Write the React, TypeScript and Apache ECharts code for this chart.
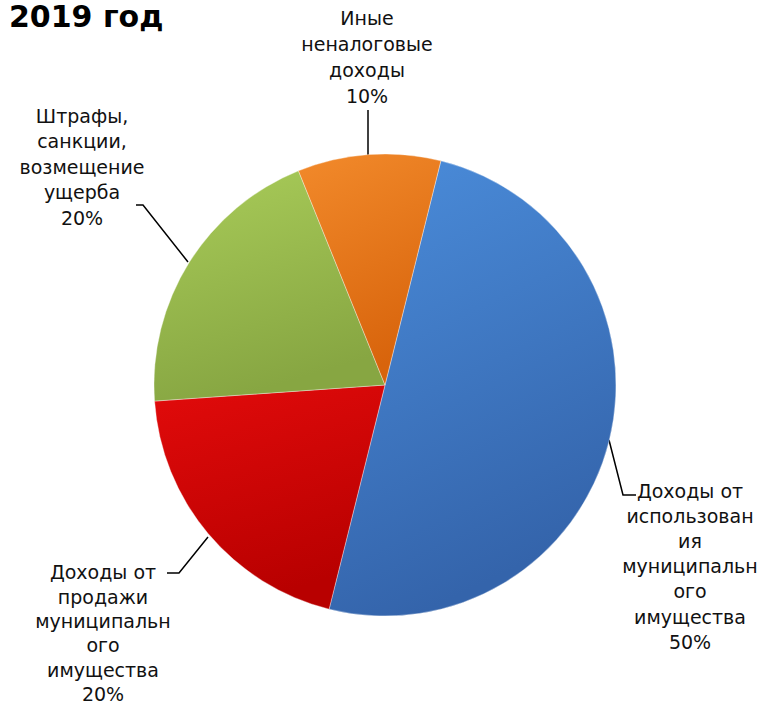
import React, { useEffect, useRef } from "react";
import * as echarts from "echarts";

const title = "2019 год";
const categories = [
  "Доходы от использования муниципального имущества",
  "Доходы от продажи муниципального имущества",
  "Штрафы, санкции, возмещение ущерба",
  "Иные неналоговые доходы",
];
const values = [50, 20, 20, 10];
const labelTexts = [
  ["Доходы от", "использован", "ия", "муниципальн", "ого", "имущества"],
  ["Доходы от", "продажи", "муниципальн", "ого", "имущества"],
  ["Штрафы,", "санкции,", "возмещение", "ущерба"],
  ["Иные", "неналоговые", "доходы"],
];
const colorsTop = ["#4b8ddb", "#e20b0b", "#a9cc59", "#f28a2b"];
const colorsBottom = ["#3464ab", "#b80000", "#87a642", "#d8640c"];

const FONT = "'DejaVu Sans', sans-serif";

// label placement: [centerX, topY, lineHeight, linePoints]
const labelPlaces: [number, number, number, number[][]][] = [
  [690, 478, 25.2, [[609, 440], [623, 495], [636, 495]]],
  [103, 560, 24.4, [[208, 537], [179, 573], [167, 573]]],
  [82, 103, 25.5, [[188, 262], [143, 205], [136, 205]]],
  [367, 5, 26, [[368, 156], [368, 133], [368, 110]]],
];

export default function App() {
  const ref = useRef<HTMLDivElement>(null);
  useEffect(() => {
    if (!ref.current) return;
    const chart = echarts.init(ref.current, null, { renderer: "svg" });
    chart.setOption({
      animation: false,
      backgroundColor: "#ffffff",
      title: {
        text: title,
        left: 9,
        top: 1,
        padding: 0,
        textStyle: { fontSize: 30, fontWeight: "bold", fontFamily: FONT, color: "#000" },
      },
      series: [
        {
          type: "pie",
          center: [385, 385],
          radius: 231,
          startAngle: 76,
          clockwise: true,
          data: categories.map((c, i) => ({
            name: c,
            value: values[i],
            label: { lineHeight: labelPlaces[i][2] },
            itemStyle: {
              color: new echarts.graphic.LinearGradient(0, 0, 0.3, 1, [
                { offset: 0, color: colorsTop[i] },
                { offset: 1, color: colorsBottom[i] },
              ]),
              borderColor: "rgba(255,255,255,0.35)",
              borderWidth: 1,
            },
          })),
          label: {
            show: true,
            position: "outside",
            formatter: (p: any) => labelTexts[p.dataIndex].join("\n") + "\n" + Math.round(p.percent) + "%",
            fontFamily: FONT,
            fontSize: 19,
            color: "#111",
            align: "center",
            overflow: "none",
          },
          labelLine: { show: true, lineStyle: { color: "#000", width: 1.5 } },
          labelLayout: (params: any) => {
            const pl = labelPlaces[params.dataIndex];
            return {
              x: pl[0],
              y: pl[1],
              align: "center",
              verticalAlign: "top",
              labelLinePoints: pl[3],
            };
          },
        },
      ],
    });
    return () => chart.dispose();
  }, []);
  return (
    <div
      ref={ref}
      style={{ position: "fixed", left: 0, top: 0, width: 771, height: 708, background: "#fff" }}
    />
  );
}
